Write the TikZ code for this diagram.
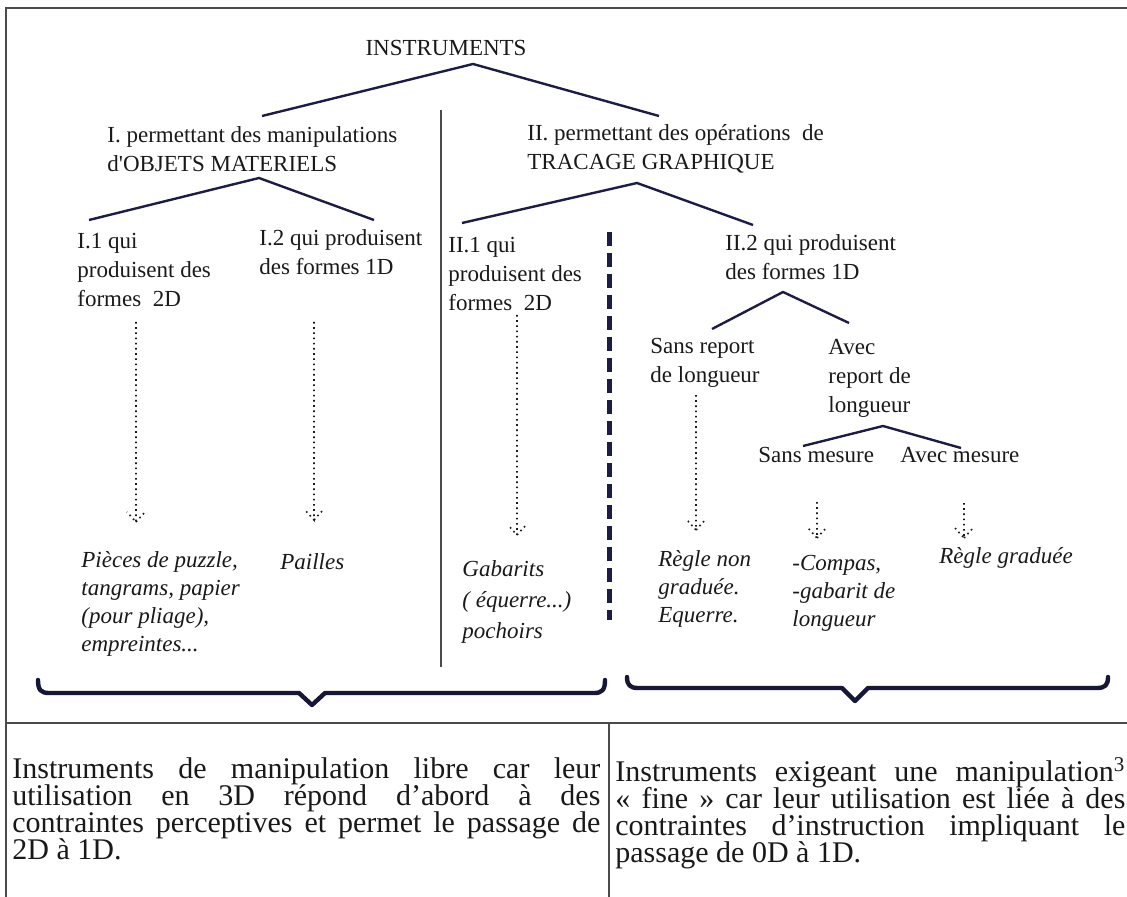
\documentclass[tikz,border=0pt]{standalone}
\usepackage{fontspec}
\setmainfont{Liberation Serif}
\definecolor{ink}{RGB}{25,25,25}
\definecolor{navy}{RGB}{28,28,70}
\definecolor{framegray}{RGB}{75,75,75}
\tikzset{font=\fontsize{11.5}{14.5}\selectfont}
\newcommand{\fillline}[2][294pt]{\makebox[#1][s]{#2}}

\begin{document}
\begin{tikzpicture}[x=0.5pt, y=-0.5pt,
		branch/.style={navy, line width=1.2pt},
		dotarrow/.style={ink, line width=0.8pt, dash pattern=on 0.8pt off 1.8pt,
			to path={-- (\tikztotarget) -- +(-9,-10) (\tikztotarget) -- +(9,-10)}},
		brace/.style={navy!80!black, line width=2.2pt, line join=round, line cap=round},
		leaf/.style={font=\fontsize{11.5}{14}\selectfont\itshape},
		cell/.style={anchor=north west, font={\fontsize{15}{13.5}\selectfont\lineskiplimit=-20pt}}]
	\useasboundingbox (0,0) rectangle (1127,897);
	\tikzstyle{every node}=[inner sep=0pt, align=left, anchor=west, text=ink]

	% frame and table
	\draw[framegray, line width=0.7pt] (1127,8) -- (6,8) -- (6,897);
	\draw[framegray, line width=0.7pt] (6,723) -- (1127,723);
	\draw[framegray, line width=0.7pt] (609,723) -- (609,897);
	\draw[framegray, line width=0.6pt] (441,110) -- (441,667);
	\draw[navy, line width=2.5pt, dash pattern=on 7pt off 3.5pt] (609,232) -- (609,620);

	\node[anchor=center] (inst) at (446,48) {INSTRUMENTS};
	\node (manip) at (107,149) {I. permettant des manipulations\\d\textquotesingle OBJETS MATERIELS};
	\node (trac) at (527,149) {II. permettant des opérations\ \ de\\TRACAGE GRAPHIQUE};

	\node (obj2d) at (77,270) {I.1 qui\\produisent des\\formes\ \ 2D};
	\node (obj1d) at (259,252) {I.2 qui produisent\\des formes 1D};
	\node (tr2d) at (448,274) {II.1 qui\\produisent des\\formes\ \ 2D};
	\node (tr1d) at (725,257) {II.2 qui produisent\\des formes 1D};

	\node (sansrep) at (650,363) {Sans report\\de longueur};
	\node (avecrep) at (828,378) {Avec\\report de\\longueur};
	\node (sansmes) at (758,455) {Sans mesure};
	\node (avecmes) at (900,455) {Avec mesure};

	\node[leaf] (puzzle) at (81,604) {Pièces de puzzle,\\tangrams, papier\\(pour pliage),\\empreintes...};
	\node[leaf] (pailles) at (280,562) {Pailles};
	\node[leaf, font=\fontsize{11.5}{15.5}\selectfont\itshape] (gabarit) at (462,602) {Gabarits\\( équerre...)\\pochoirs};
	\node[leaf] (regle) at (658,589) {Règle non\\graduée.\\Equerre.};
	\node[leaf] (compas) at (792,593) {-Compas,\\-gabarit de\\longueur};
	\node[leaf] (gradue) at (939,558) {Règle graduée};

	\coordinate (instb) at (473,64);
	\coordinate (manipt) at (262,116);
	\coordinate (tract) at (659,116);
	\coordinate (manipb) at (259,178);
	\coordinate (obj2dt) at (89,220);
	\coordinate (obj1dt) at (374,220);
	\coordinate (tracb) at (637,183);
	\coordinate (tr2dt) at (462,223);
	\coordinate (tr1dt) at (753,225);
	\coordinate (tr1db) at (783,292);
	\coordinate (sansrept) at (712,329);
	\coordinate (avecrept) at (849,323);
	\coordinate (avecrepb) at (883,426);
	\coordinate (sansmest) at (803,446);
	\coordinate (avecmest) at (961,448);

	\draw[branch] (manipt) -- (instb) -- (tract);
	\draw[branch] (obj2dt) -- (manipb) -- (obj1dt);
	\draw[branch] (tr2dt) -- (tracb) -- (tr1dt);
	\draw[branch] (sansrept) -- (tr1db) -- (avecrept);
	\draw[branch] (sansmest) -- (avecrepb) -- (avecmest);

	\coordinate (obj2ds) at (136,322);
	\coordinate (puzzlet) at (136,522);
	\coordinate (obj1ds) at (314,322);
	\coordinate (paillest) at (314,520);
	\coordinate (tr2ds) at (517,315);
	\coordinate (gabaritt) at (517,535);
	\coordinate (sansreps) at (696,395);
	\coordinate (reglet) at (696,530);
	\coordinate (sansmess) at (817,502);
	\coordinate (compast) at (817,538);
	\coordinate (avecmess) at (964,503);
	\coordinate (graduet) at (964,538);

	\draw[dotarrow] (obj2ds) to (puzzlet);
	\draw[dotarrow] (obj1ds) to (paillest);
	\draw[dotarrow] (tr2ds) to (gabaritt);
	\draw[dotarrow] (sansreps) to (reglet);
	\draw[dotarrow] (sansmess) to (compast);
	\draw[dotarrow] (avecmess) to (graduet);

	% braces
	\draw[brace] (38,680) .. controls (38,690) and (41,693) .. (49,693) -- (299,693) -- (312,705) -- (325,693) -- (594,693) .. controls (602,693) and (605,690) .. (605,680);
	\draw[brace] (627,677) .. controls (627,685) and (630,688) .. (638,688) -- (842,688) -- (855,701) -- (868,688) -- (1097,688) .. controls (1105,688) and (1108,685) .. (1108,677);

	\node[cell] (libre) at (12,757) {\fillline{Instruments de manipulation libre car leur}\\
		\fillline{utilisation en 3D répond d’abord à des}\\
		\fillline{contraintes perceptives et permet le passage de}\\
		2D à 1D.};
	\node[cell] (fine) at (615,757) {\fillline[255pt]{Instruments exigeant une manipulation\textsuperscript{3}}\\
		\fillline[255pt]{« fine » car leur utilisation est liée à des}\\
		\fillline[255pt]{contraintes d’instruction impliquant le}\\
		passage de 0D à 1D.};
\end{tikzpicture}
\end{document}
